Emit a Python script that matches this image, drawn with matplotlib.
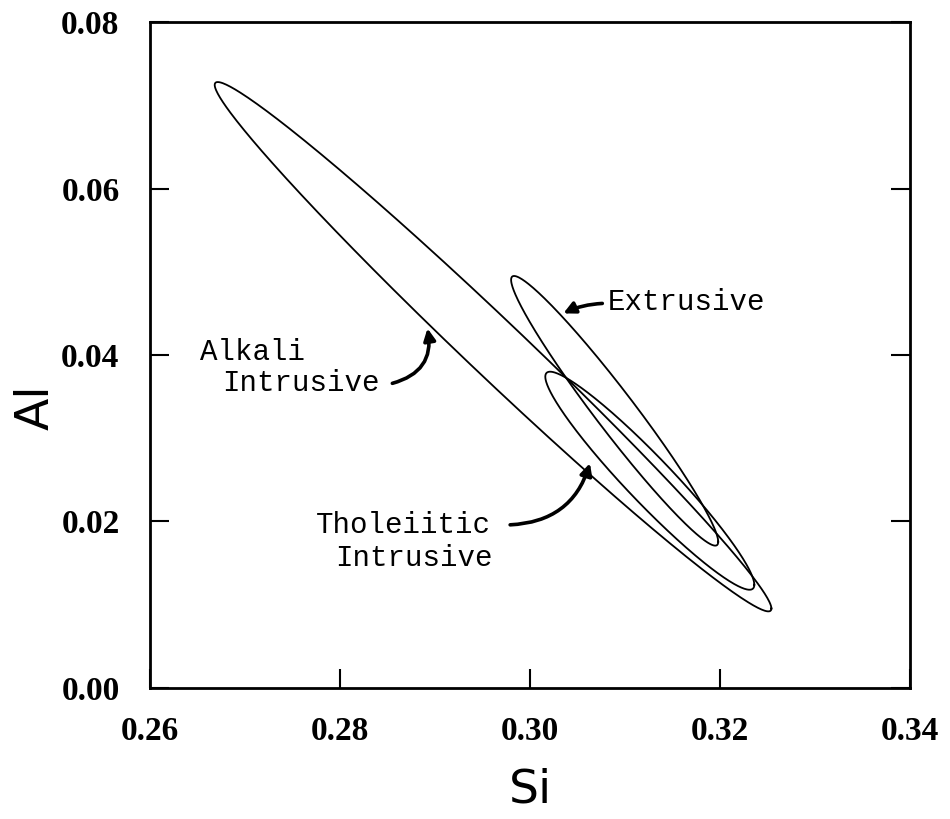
import numpy as np
import matplotlib.pyplot as plt

# Si-Al covariance ellipses for the three rock groups
groups = ["Alkali Intrusive", "Tholeiitic Intrusive", "Extrusive"]
si_mean = [0.2961, 0.3126, 0.3089]
al_mean = [0.0410, 0.0249, 0.0333]
si_sd = [0.0293, 0.0110, 0.0109]
al_sd = [0.0318, 0.0131, 0.0162]
si_al_corr = [-0.989, -0.954, -0.971]

# label lines and arrow end points (data units)
label_lines = [["Alkali", "Intrusive"], ["Tholeiitic", "Intrusive"], ["Extrusive"]]
label_si = [[0.2653, 0.2676], [0.2774, 0.2795], [0.3082]]
label_al = [[0.0404, 0.0366], [0.0196, 0.0156], [0.0464]]
arrow_from = [(0.2855, 0.0366), (0.2979, 0.0196), (0.3076, 0.0462)]
arrow_to = [(0.2892, 0.0432), (0.3063, 0.0270), (0.3035, 0.0450)]
arrow_rad = [0.45, 0.35, 0.1]

si_ticks = [0.26, 0.28, 0.30, 0.32, 0.34]
al_ticks = [0.00, 0.02, 0.04, 0.06, 0.08]


def ellipse_points(mx, my, sx, sy, r, n=400):
    t = np.linspace(0, 2 * np.pi, n)
    phase = np.arccos(r)
    return mx + sx * np.cos(t), my + sy * np.cos(t - phase)


fig = plt.figure(figsize=(9.5, 8.19), dpi=100)
ax = fig.add_axes([0.158, 0.16, 0.80, 0.813])

for i in range(len(groups)):
    x, y = ellipse_points(si_mean[i], al_mean[i], si_sd[i], al_sd[i], si_al_corr[i])
    ax.plot(x, y, color="black", lw=1.3)

mono = dict(family="Liberation Mono", fontsize=21, color="black")
for lines, xs, ys in zip(label_lines, label_si, label_al):
    for s, x, y in zip(lines, xs, ys):
        ax.text(x, y, s, ha="left", va="center", **mono)

for p0, p1, rad in zip(arrow_from, arrow_to, arrow_rad):
    ax.annotate("", xy=p1, xytext=p0,
                arrowprops=dict(arrowstyle="-|>,head_length=0.7,head_width=0.35",
                                connectionstyle=f"arc3,rad={rad}",
                                color="black", lw=2.6, shrinkA=0, shrinkB=0))

ax.set_xlim(si_ticks[0], si_ticks[-1])
ax.set_ylim(al_ticks[0], al_ticks[-1])
ax.set_xticks(si_ticks)
ax.set_yticks(al_ticks)
tick_font = dict(family="Liberation Serif", fontsize=24, fontweight="bold")
ax.set_xticklabels([f"{v:.2f}" for v in si_ticks], **tick_font)
ax.set_yticklabels([f"{v:.2f}" for v in al_ticks], **tick_font)
ax.tick_params(direction="in", length=14, width=1.5, right=True, top=False)
ax.tick_params(axis="x", pad=20)
ax.tick_params(axis="y", pad=22)
for side in ax.spines.values():
    side.set_linewidth(2)

# axis titles placed directly in figure coordinates
fig.text(530 / 950, 1 - 790 / 819, "Si", fontsize=34, ha="center", va="center")
fig.text(36 / 950, 1 - 407 / 819, "Al", fontsize=34, rotation=90, ha="center", va="center")

plt.savefig("out.png", dpi=100)
plt.close()
